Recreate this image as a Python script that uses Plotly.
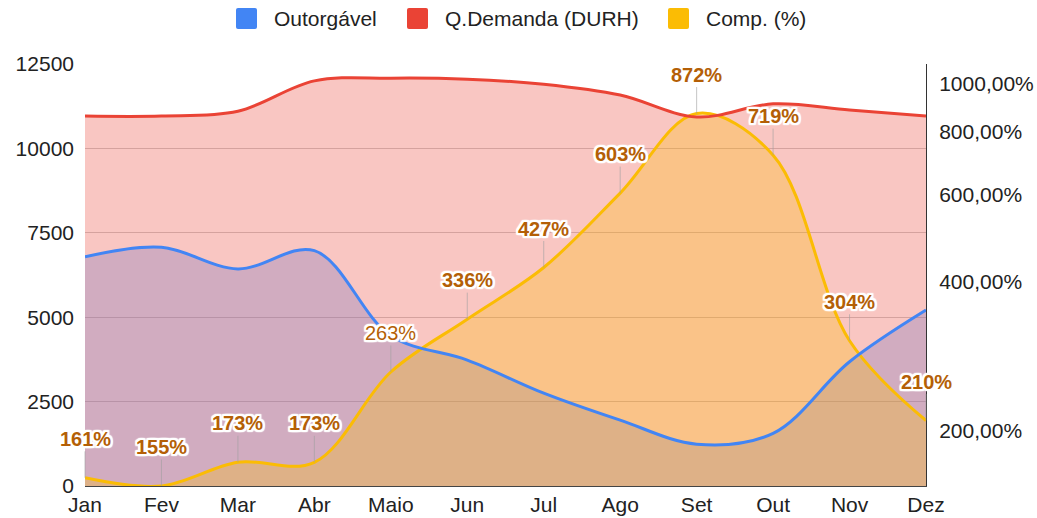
import math
import plotly.graph_objects as go

# Monthly figures
months = ["Jan", "Fev", "Mar", "Abr", "Maio", "Jun", "Jul", "Ago", "Set", "Out", "Nov", "Dez"]
outorgavel = [6790, 7070, 6430, 6970, 4450, 3730, 2750, 1950, 1240, 1560, 3680, 5210]
demanda = [10960, 10960, 11100, 12000, 12080, 12050, 11900, 11580, 10930, 11320, 11140, 10960]
comp_pct = [161, 155, 173, 173, 263, 336, 427, 603, 872, 719, 304, 210]

# Right axis (log) ticks
pct_ticks = [200, 400, 600, 800, 1000]
pct_tick_text = ["200,00%", "400,00%", "600,00%", "800,00%", "1000,00%"]

series_names = ["Outorgável", "Q.Demanda (DURH)", "Comp. (%)"]

BLUE = "#4285F4"
RED = "#EA4335"
YELLOW = "#FBBC04"
LABEL = "#B45F06"
FONT = "Liberation Sans, Arial, sans-serif"

# Plot area in pixels (used to place the legend row above it)
W, H = 1037, 518
ML, MR, MT, MB = 85, 111, 64, 32
PW, PH = W - ML - MR, H - MT - MB


def px_x(px):
    return (px - ML) / PW


def px_y(py):
    return (H - MB - py) / PH


fig = go.Figure()

# Filled areas (left axis)
fig.add_trace(go.Scatter(x=months, y=outorgavel, mode="lines", line=dict(width=0, shape="spline"),
                         fill="tozeroy", fillcolor="rgba(66,133,244,0.3)", showlegend=False,
                         hoverinfo="skip", yaxis="y"))
fig.add_trace(go.Scatter(x=months, y=demanda, mode="lines", line=dict(width=0, shape="spline"),
                         fill="tozeroy", fillcolor="rgba(234,67,53,0.3)", showlegend=False,
                         hoverinfo="skip", yaxis="y"))

# Percentage area on the log axis: a floor below the visible range, then the filled curve
fig.add_trace(go.Scatter(x=months, y=[1] * len(months), mode="lines", line=dict(width=0),
                         showlegend=False, hoverinfo="skip", yaxis="y2"))
fig.add_trace(go.Scatter(x=months, y=comp_pct, mode="lines", line=dict(width=3, color=YELLOW, shape="spline"),
                         fill="tonexty", fillcolor="rgba(251,188,4,0.3)", name=series_names[2],
                         showlegend=False, yaxis="y2"))

# Lines for the left-axis series, drawn on top
fig.add_trace(go.Scatter(x=months, y=outorgavel, mode="lines", line=dict(width=3, color=BLUE, shape="spline"),
                         name=series_names[0], showlegend=False, yaxis="y3"))
fig.add_trace(go.Scatter(x=months, y=demanda, mode="lines", line=dict(width=3, color=RED, shape="spline"),
                         name=series_names[1], showlegend=False, yaxis="y3"))

# Legend row: rounded swatches + labels
legend_items = [(series_names[0], BLUE, 236), (series_names[1], RED, 407), (series_names[2], YELLOW, 668)]
sw, r = 21, 2
y_top, y_bot = 8, 8 + sw
for name, color, x0 in legend_items:
    x1 = x0 + sw
    pts = dict(
        a=px_x(x0), b=px_x(x0 + r), c=px_x(x1 - r), d=px_x(x1),
        e=px_y(y_top), f=px_y(y_top + r), g=px_y(y_bot - r), h=px_y(y_bot),
    )
    path = ("M {b},{e} L {c},{e} Q {d},{e} {d},{f} L {d},{g} Q {d},{h} {c},{h} "
            "L {b},{h} Q {a},{h} {a},{g} L {a},{f} Q {a},{e} {b},{e} Z").format(**pts)
    fig.add_shape(type="path", path=path, xref="paper", yref="paper",
                  fillcolor=color, line=dict(width=0))
    fig.add_annotation(x=px_x(x1 + 15), y=px_y((y_top + y_bot) / 2), xref="paper", yref="paper",
                       text=name, showarrow=False, xanchor="left", yanchor="middle",
                       font=dict(family=FONT, size=21, color="#222222"))

# Value labels with stems
halo = ",".join(f"{dx}px {dy}px 1px white" for dx in (-2, -1, 0, 1, 2) for dy in (-2, -1, 0, 1, 2))
for m, v in zip(months, comp_pct):
    fig.add_annotation(x=m, y=math.log10(v), xref="x", yref="y2", text=f"{v}%",
                       showarrow=True, ax=0, ay=-39, arrowhead=0, arrowwidth=1,
                       arrowcolor="rgba(160,160,160,0.6)", standoff=0,
                       font=dict(family=FONT, size=20, color=LABEL,
                                 weight="normal" if m == "Maio" else "bold", shadow=halo))

left_range = [0, 12500]
fig.update_layout(
    width=W, height=H,
    margin=dict(l=ML, r=MR, t=MT, b=MB),
    paper_bgcolor="white", plot_bgcolor="white",
    font=dict(family=FONT, size=21, color="#222222"),
    showlegend=False,
    xaxis=dict(range=[0, 11], showgrid=False, ticks="", showline=True, linecolor="#444444",
               linewidth=1, automargin=False, tickfont=dict(size=21, color="#222222")),
    yaxis=dict(range=left_range, dtick=2500, tickformat="d", showgrid=True, gridcolor="#cccccc",
               gridwidth=1, zeroline=False, ticks="", ticklabelstandoff=10, automargin=False,
               tickfont=dict(size=21, color="#222222")),
    yaxis2=dict(type="log", overlaying="y", side="right",
                range=[math.log10(155), 3.0403], tickvals=pct_ticks, ticktext=pct_tick_text,
                showgrid=False, zeroline=False, ticks="", showline=True, linecolor="#333333",
                linewidth=1, ticklabelstandoff=8, automargin=False,
                tickfont=dict(size=21, color="#222222")),
    yaxis3=dict(range=left_range, overlaying="y", visible=False),
)

fig.write_html("out.html")
